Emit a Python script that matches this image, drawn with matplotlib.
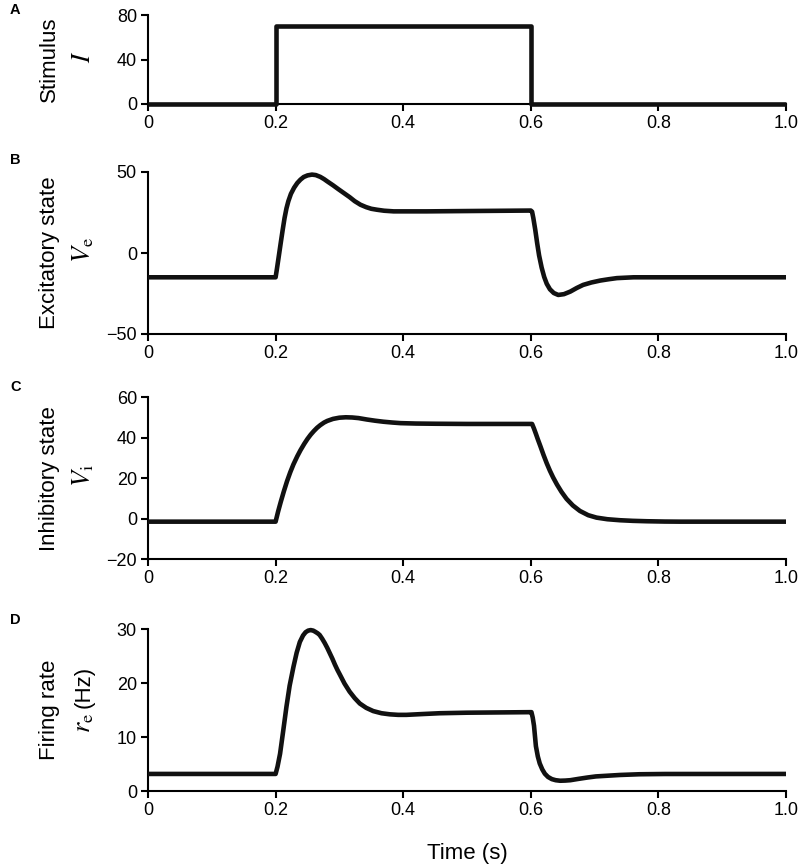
import matplotlib
matplotlib.use("Agg")
import matplotlib.pyplot as plt

plt.rcParams['font.family'] = ['Liberation Sans', 'DejaVu Sans']
plt.rcParams['mathtext.fontset'] = 'stix'

# ---- data ----
t_stim = [0.0, 0.2, 0.2, 0.6, 0.6, 1.0]
stim = [0, 0, 70, 70, 0, 0]

t_ve = [0.0, 0.2, 0.202, 0.205, 0.208, 0.211, 0.214, 0.217, 0.22, 0.224, 0.229,
        0.234, 0.239, 0.244, 0.25, 0.257, 0.263, 0.27, 0.276, 0.281, 0.29, 0.298,
        0.307, 0.316, 0.324, 0.333, 0.342, 0.35, 0.359, 0.37, 0.385, 0.437, 0.5,
        0.6, 0.602, 0.604, 0.607, 0.61, 0.613, 0.617, 0.621, 0.625, 0.63, 0.636,
        0.643, 0.652, 0.662, 0.672, 0.682, 0.695, 0.709, 0.722, 0.735, 0.761,
        0.85, 1.0]
ve = [-15, -15, -10, -2, 6.1, 14.0, 21.5, 27.5, 32.0, 36.5, 40.3,
      43.2, 45.3, 46.9, 47.9, 48.4, 48.1, 47.0, 45.6, 44.2, 41.8, 39.5,
      37.0, 34.5, 32.0, 29.8, 28.3, 27.3, 26.7, 26.1, 25.7, 25.7, 25.9,
      26.2, 25.5, 21.5, 14.3, 6.0, -1.5, -9.0, -14.8, -19.0, -22.4, -24.7,
      -25.9, -25.4, -23.8, -21.6, -19.7, -18.2, -17.0, -16.2, -15.5, -15.0,
      -15.0, -15.0]

t_vi = [0.0, 0.2, 0.204, 0.208, 0.213, 0.218, 0.223, 0.228, 0.234, 0.239, 0.245,
        0.25, 0.255, 0.26, 0.265, 0.27, 0.276, 0.281, 0.29, 0.3, 0.31, 0.32,
        0.33, 0.343, 0.356, 0.369, 0.383, 0.396, 0.42, 0.45, 0.5, 0.602,
        0.605, 0.608, 0.611, 0.615, 0.62, 0.625, 0.63, 0.635, 0.641, 0.648,
        0.656, 0.666, 0.677, 0.69, 0.703, 0.72, 0.74, 0.76, 0.782, 0.81,
        0.834, 1.0]
vi = [-1.5, -1.5, 3.6, 8.2, 13.6, 18.6, 23.0, 26.9, 30.9, 33.9, 37.1,
      39.5, 41.6, 43.4, 45.0, 46.3, 47.6, 48.4, 49.4, 50.0, 50.2, 50.1,
      49.8, 49.1, 48.5, 48.0, 47.6, 47.3, 47.1, 47.0, 46.9, 46.9,
      44.6, 42.0, 39.3, 35.9, 31.5, 27.4, 23.7, 20.4, 16.9, 13.3,
      9.8, 6.5, 3.8, 1.7, 0.5, -0.3, -0.8, -1.1, -1.3, -1.45,
      -1.5, -1.5]

t_re = [0.0, 0.2, 0.203, 0.207, 0.212, 0.217, 0.222, 0.228, 0.233, 0.238, 0.243,
        0.247, 0.251, 0.255, 0.259, 0.262, 0.266, 0.269, 0.273, 0.277, 0.281,
        0.285, 0.289, 0.293, 0.297, 0.301, 0.308, 0.316, 0.324, 0.332, 0.342,
        0.353, 0.366, 0.379, 0.392, 0.405, 0.43, 0.457, 0.5, 0.6,
        0.601, 0.603, 0.605, 0.608, 0.611, 0.614, 0.618, 0.622, 0.627, 0.633,
        0.639, 0.646, 0.654, 0.662, 0.675, 0.689, 0.702, 0.716, 0.74, 0.77,
        0.81, 1.0]
re = [3.16, 3.16, 4.5, 6.9, 11.2, 15.6, 19.5, 23.0, 25.6, 27.6, 28.8,
      29.4, 29.7, 29.8, 29.7, 29.5, 29.2, 28.9, 28.2, 27.4, 26.5,
      25.5, 24.5, 23.4, 22.4, 21.5, 19.9, 18.4, 17.2, 16.2, 15.4,
      14.8, 14.4, 14.2, 14.1, 14.1, 14.25, 14.4, 14.5, 14.6,
      14.6, 13.6, 12.1, 8.3, 6.4, 5.1, 4.0, 3.2, 2.6, 2.2,
      2.0, 1.9, 1.93, 2.0, 2.25, 2.5, 2.7, 2.8, 2.97, 3.1,
      3.15, 3.16]

x_ticks = [0, 0.2, 0.4, 0.6, 0.8, 1.0]
x_ticklabels = ['0', '0.2', '0.4', '0.6', '0.8', '1.0']

panels = [
    dict(t=t_stim, y=stim, ylim=(0, 80), yticks=[0, 40, 80], yticklabels=['0', '40', '80'],
         letter='A', l1='Stimulus', l2=r'$I$', l3=None),
    dict(t=t_ve, y=ve, ylim=(-50, 50), yticks=[-50, 0, 50], yticklabels=['\u221250', '0', '50'],
         letter='B', l1='Excitatory state', l2=r'$V_{\mathrm{e}}$', l3=None),
    dict(t=t_vi, y=vi, ylim=(-20, 60), yticks=[-20, 0, 20, 40, 60],
         yticklabels=['\u221220', '0', '20', '40', '60'],
         letter='C', l1='Inhibitory state', l2=r'$V_{\mathrm{i}}$', l3=None),
    dict(t=t_re, y=re, ylim=(0, 30), yticks=[0, 10, 20, 30], yticklabels=['0', '10', '20', '30'],
         letter='D', l1='Firing rate', l2=r'$r_{\mathrm{e}}$', l3='(Hz)'),
]

W, H = 810, 867
fig = plt.figure(figsize=(W / 100, H / 100), dpi=100)

left_px, right_px = 148, 786
boxes = [(15, 104), (172, 334), (397.5, 559), (629, 791)]
letter_y = [10, 160, 387, 620]

def fx(px):
    return px / W

def fy(py):
    return 1 - py / H

for p, (top, bot), ly in zip(panels, boxes, letter_y):
    ax = fig.add_axes([left_px / W, 1 - bot / H, (right_px - left_px) / W, (bot - top) / H])
    ax.plot(p['t'], p['y'], color='#111111', lw=3.3, clip_on=False,
            solid_joinstyle='round', solid_capstyle='butt', zorder=3)
    ax.set_xlim(0, 1.0)
    ax.set_ylim(*p['ylim'])
    ax.set_xticks(x_ticks)
    ax.set_xticklabels(x_ticklabels)
    ax.set_yticks(p['yticks'])
    ax.set_yticklabels(p['yticklabels'])
    for s in ('top', 'right'):
        ax.spines[s].set_visible(False)
    for s in ('left', 'bottom'):
        ax.spines[s].set_linewidth(1.5)
        ax.spines[s].set_color('black')
    ax.tick_params(direction='out', length=5, width=1.5, labelsize=13, pad=3, colors='black')
    ycen = (top + bot) / 2
    fig.text(fx(55), fy(ycen), p['l1'], rotation=90, rotation_mode='anchor',
             ha='center', va='baseline', fontsize=16)
    if p['l3'] is None:
        fig.text(fx(90), fy(ycen - 3), p['l2'], rotation=90, rotation_mode='anchor',
                 ha='center', va='baseline', fontsize=19)
    else:
        fig.text(fx(90), fy(ycen + 3), p['l2'], rotation=90, rotation_mode='anchor',
                 ha='right', va='baseline', fontsize=19)
        fig.text(fx(90), fy(ycen - 2), p['l3'], rotation=90, rotation_mode='anchor',
                 ha='left', va='baseline', fontsize=16)
    fig.text(fx(10), fy(ly), p['letter'], ha='left', va='center', fontsize=10.5,
             fontweight='bold')

fig.text(fx((left_px + right_px) / 2), fy(853), 'Time (s)', ha='center', va='center',
         fontsize=16)

fig.savefig('out.png', dpi=100)
